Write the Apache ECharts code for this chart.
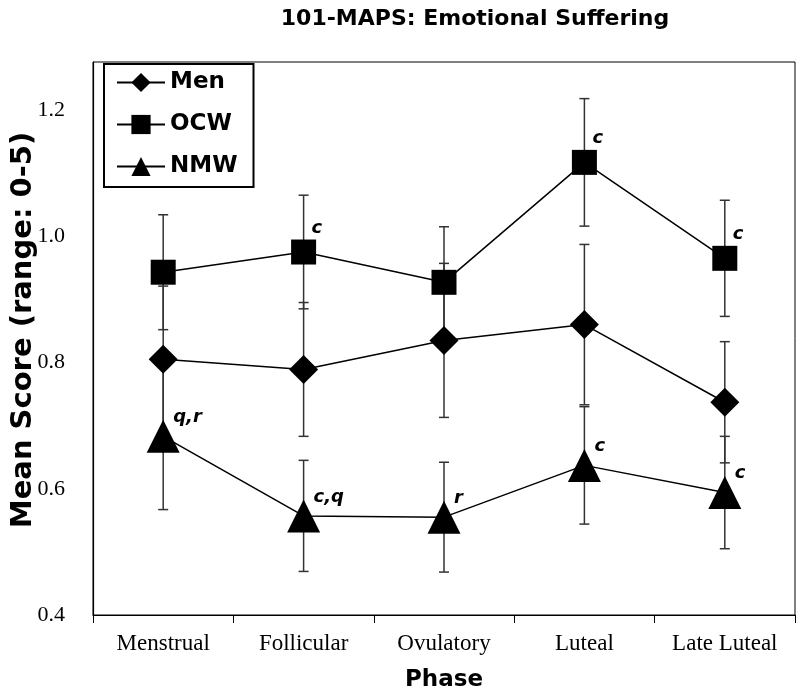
<!DOCTYPE html>
<html>
<head>
<meta charset="utf-8">
<script src="https://cdn.jsdelivr.net/npm/echarts@6/dist/echarts.min.js"></script>
<style>html,body{margin:0;padding:0;background:#fff;}#chart{width:800px;height:692px;}</style>
</head>
<body>
<div id="chart"></div>
<script>
// ---- data ----
var phases = ['Menstrual', 'Follicular', 'Ovulatory', 'Luteal', 'Late Luteal'];
var seriesNames = ['Men', 'OCW', 'NMW'];
var menMean = [0.805, 0.789, 0.835, 0.860, 0.737];
var menErr  = [0.116, 0.106, 0.122, 0.127, 0.096];
var ocwMean = [0.943, 0.975, 0.927, 1.117, 0.965];
var ocwErr  = [0.091, 0.090, 0.088, 0.101, 0.092];
var nmwMean = [0.683, 0.557, 0.555, 0.637, 0.594];
var nmwErr  = [0.116, 0.088, 0.087, 0.093, 0.089];
var menNotes = ['', '', '', '', ''];
var ocwNotes = ['', 'c', '', 'c', 'c'];
var nmwNotes = ['q,r', 'c,q', 'r', 'c', 'c'];
var yTicks = [0.4, 0.6, 0.8, 1.0, 1.2];
var titleText = '101-MAPS: Emotional Suffering';
var xName = 'Phase';
var yName = 'Mean Score (range: 0-5)';

// ---- chart ----
var chart = echarts.init(document.getElementById('chart'), null, {renderer: 'canvas'});
var labelFont = {fontFamily: 'DejaVu Sans', fontWeight: 'bold', fontStyle: 'italic', fontSize: 18, color: '#000'};

function lineSeries(name, means, notes, symbol, size, lx, ly) {
  return {
    name: name, type: 'line', z: 5,
    symbol: symbol, symbolSize: size,
    itemStyle: {color: '#000'},
    lineStyle: {color: '#000', width: 1.5},
    data: means.map(function (v, i) {
      return {
        value: v,
        label: {
          show: notes[i] !== '',
          formatter: notes[i],
          position: [size / 2 + lx, size / 2 + ly],
          align: 'left', verticalAlign: 'middle',
          fontFamily: labelFont.fontFamily, fontWeight: labelFont.fontWeight,
          fontStyle: labelFont.fontStyle, fontSize: labelFont.fontSize, color: labelFont.color
        }
      };
    })
  };
}

function errSeries(name, means, errs) {
  return {
    name: name + ' err', type: 'custom', z: 2,
    data: means.map(function (v, i) { return [i, v - errs[i], v + errs[i]]; }),
    encode: {x: 0, y: [1, 2]},
    renderItem: function (params, api) {
      var x = api.value(0);
      var lo = api.coord([x, api.value(1)]);
      var hi = api.coord([x, api.value(2)]);
      var cw = 5;
      var st = {stroke: '#333', lineWidth: 1.5};
      return {
        type: 'group',
        children: [
          {type: 'line', shape: {x1: hi[0], y1: hi[1], x2: lo[0], y2: lo[1]}, style: st},
          {type: 'line', shape: {x1: hi[0] - cw, y1: hi[1], x2: hi[0] + cw, y2: hi[1]}, style: st},
          {type: 'line', shape: {x1: lo[0] - cw, y1: lo[1], x2: lo[0] + cw, y2: lo[1]}, style: st}
        ]
      };
    },
    tooltip: {show: false}
  };
}

var option = {
  backgroundColor: '#fff',
  animation: false,
  title: {
    text: titleText, left: 470, top: 3, textAlign: 'center',
    textStyle: {fontFamily: 'DejaVu Sans', fontWeight: 'bold', fontSize: 22, color: '#000'}
  },
  graphic: [{
    type: 'text', x: 23, y: 330, rotation: Math.PI / 2,
    style: {
      text: yName, align: 'center', verticalAlign: 'middle',
      font: 'bold 29px "DejaVu Sans"', fill: '#000'
    }
  }],
  legend: {
    data: seriesNames,
    orient: 'vertical', left: 104, top: 64,
    itemWidth: 48, itemHeight: 24, itemGap: 19, itemTextGap: 10,
    padding: [7, 16, 9, 12],
    borderColor: '#000', borderWidth: 2,
    textStyle: {fontFamily: 'DejaVu Sans', fontWeight: 'bold', fontSize: 23, color: '#000'}
  },
  grid: {left: 93, right: 5, top: 62, bottom: 77, outerBoundsMode: 'none', containLabel: false,
         show: true, borderColor: '#000', borderWidth: 1, backgroundColor: 'transparent'},
  xAxis: {
    type: 'category', data: phases, boundaryGap: true,
    name: xName, nameLocation: 'middle', nameGap: 54,
    nameTextStyle: {fontFamily: 'DejaVu Sans', fontWeight: 'bold', fontSize: 23, color: '#000'},
    axisLine: {lineStyle: {color: '#000', width: 1.2}},
    axisTick: {show: true, interval: 0, length: 8, lineStyle: {color: '#000'}},
    axisLabel: {interval: 0, hideOverlap: false, margin: 17, fontFamily: 'Liberation Serif', fontSize: 23, color: '#000'}
  },
  yAxis: {
    type: 'value', min: yTicks[0], max: 1.276, interval: 0.2,
    axisLine: {show: true, lineStyle: {color: '#000', width: 1.2}},
    axisTick: {show: false},
    splitLine: {show: false},
    axisLabel: {
      margin: 28, fontFamily: 'Liberation Serif', fontSize: 22, color: '#000',
      showMaxLabel: false,
      formatter: function (v) { return v.toFixed(1); }
    }
  },
  series: [
    errSeries('Men', menMean, menErr),
    errSeries('OCW', ocwMean, ocwErr),
    errSeries('NMW', nmwMean, nmwErr),
    lineSeries('Men', menMean, menNotes, 'diamond', 29, 10, -20),
    lineSeries('OCW', ocwMean, ocwNotes, 'rect', 25, 8, -24),
    lineSeries('NMW', nmwMean, nmwNotes, 'triangle', 33, 10, -19)
  ]
};
chart.setOption(option);
</script>
</body>
</html>
